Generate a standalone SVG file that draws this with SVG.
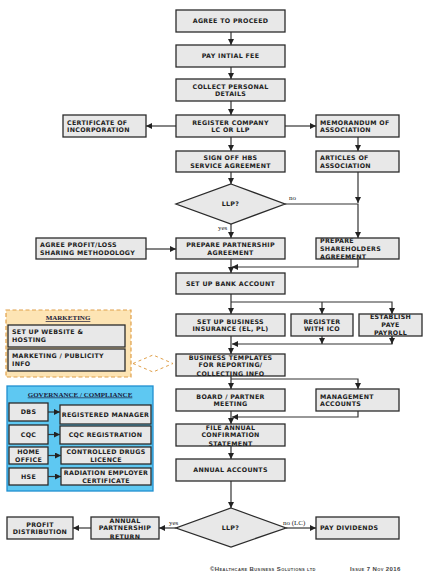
<svg xmlns="http://www.w3.org/2000/svg" width="429" height="575" viewBox="0 0 429 575">
<defs>
<style>
.bx{fill:#e8e8e8;stroke:#2b2b2b;stroke-width:1.3}
.t{font-family:"DejaVu Sans",sans-serif;font-weight:bold;font-size:6.3px;letter-spacing:0.3px;fill:#222;text-anchor:middle}
.l{text-anchor:start}
.c{fill:none;stroke:#333;stroke-width:1.2}
.lab{font-family:"Liberation Serif",serif;font-size:7px;fill:#222}
.hd{font-family:"Liberation Serif",serif;font-weight:bold;font-size:7px;fill:#1a1a3a;text-anchor:middle;text-decoration:underline}
.ft{font-family:"Liberation Sans",sans-serif;font-weight:bold;font-size:6px;font-variant:small-caps;fill:#444;letter-spacing:0.4px}
</style>
<marker id="a" markerUnits="userSpaceOnUse" markerWidth="7" markerHeight="7" refX="6" refY="3" orient="auto">
<path d="M0,0 L6,3 L0,6 Z" fill="#222"/>
</marker>
</defs>
<rect width="429" height="575" fill="#fff"/>

<g id="marketing">
<rect x="6" y="310" width="125" height="67" fill="#fde4b4" stroke="#e0a04a" stroke-width="1.2" stroke-dasharray="4,2.5"/>
<text class="hd" x="68" y="320">MARKETING</text>
<rect class="bx" x="8" y="325" width="117" height="22"/>
<text class="t l" x="12" y="334">SET UP WEBSITE &amp;</text>
<text class="t l" x="12" y="341.5">HOSTING</text>
<rect class="bx" x="8" y="349" width="117" height="22"/>
<text class="t l" x="12" y="358">MARKETING / PUBLICITY</text>
<text class="t l" x="12" y="365.5">INFO</text>
</g>
<g id="marketing-link">
<polygon points="133,363.5 153,355 173,363.5 153,372" fill="none" stroke="#e0a04a" stroke-width="1" stroke-dasharray="3,3"/>
</g>

<g id="governance">
<rect x="7" y="386" width="146" height="105" fill="#5ec8f2" stroke="#1f8fd0" stroke-width="1.3"/>
<text class="hd" x="80" y="396.5">GOVERNANCE / COMPLIANCE</text>
<rect class="bx" x="9" y="403" width="39" height="18"/>
<text class="t" x="28.5" y="414">DBS</text>
<rect class="bx" x="60" y="405" width="91" height="19"/>
<text class="t" x="105.5" y="416.5">REGISTERED MANAGER</text>
<rect class="bx" x="9" y="425" width="39" height="19"/>
<text class="t" x="28.5" y="436.5">CQC</text>
<rect class="bx" x="60" y="426" width="91" height="18"/>
<text class="t" x="105.5" y="437">CQC REGISTRATION</text>
<rect class="bx" x="9" y="447" width="39" height="17"/>
<text class="t" x="28.5" y="454">HOME</text>
<text class="t" x="28.5" y="461.5">OFFICE</text>
<rect class="bx" x="61" y="447" width="90" height="17"/>
<text class="t" x="106" y="454">CONTROLLED DRUGS</text>
<text class="t" x="106" y="461.5">LICENCE</text>
<rect class="bx" x="9" y="468" width="39" height="17"/>
<text class="t" x="28.5" y="478.5">HSE</text>
<rect class="bx" x="61" y="468" width="90" height="17"/>
<text class="t" x="106" y="475">RADIATION EMPLOYER</text>
<text class="t" x="106" y="482.5">CERTIFICATE</text>
<path class="c" d="M48,412 H60" marker-end="url(#a)"/>
<path class="c" d="M48,434.5 H60" marker-end="url(#a)"/>
<path class="c" d="M48,455.5 H61" marker-end="url(#a)"/>
<path class="c" d="M48,476.5 H61" marker-end="url(#a)"/>
</g>

<g id="connectors">
<path class="c" d="M231,32 V45" marker-end="url(#a)"/>
<path class="c" d="M231,67 V79" marker-end="url(#a)"/>
<path class="c" d="M231,101 V115" marker-end="url(#a)"/>
<path class="c" d="M176,126 H146" marker-end="url(#a)"/>
<path class="c" d="M285,126 H316" marker-end="url(#a)"/>
<path class="c" d="M231,137 V151" marker-end="url(#a)"/>
<path class="c" d="M358,137 V151" marker-end="url(#a)"/>
<path class="c" d="M231,172 V184" marker-end="url(#a)"/>
<path class="c" d="M358,172 V203" marker-end="url(#a)"/>
<path class="c" d="M285,204 H358 V238" marker-end="url(#a)"/>
<path class="c" d="M231,224 V238" marker-end="url(#a)"/>
<path class="c" d="M146,249 H176" marker-end="url(#a)"/>
<path class="c" d="M358,259 V267 H232" marker-end="url(#a)"/>
<path class="c" d="M231,259 V273" marker-end="url(#a)"/>
<path class="c" d="M231,294 V314" marker-end="url(#a)"/>
<path class="c" d="M231,302 H392 V314" marker-end="url(#a)"/>
<path class="c" d="M322,302 V314" marker-end="url(#a)"/>
<path class="c" d="M322,336 V344" marker-end="url(#a)"/>
<path class="c" d="M392,336 V344 H232" marker-end="url(#a)"/>
<path class="c" d="M392,336 V344" marker-end="url(#a)"/>
<path class="c" d="M231,336 V354" marker-end="url(#a)"/>
<path class="c" d="M231,376 V389" marker-end="url(#a)"/>
<path class="c" d="M231,379 H358 V389" marker-end="url(#a)"/>
<path class="c" d="M358,411 V417 H232" marker-end="url(#a)"/>
<path class="c" d="M231,411 V424" marker-end="url(#a)"/>
<path class="c" d="M231,446 V459" marker-end="url(#a)"/>
<path class="c" d="M231,481 V508" marker-end="url(#a)"/>
<path class="c" d="M176,528 H159" marker-end="url(#a)"/>
<path class="c" d="M91,528 H73" marker-end="url(#a)"/>
<path class="c" d="M286,528 H316" marker-end="url(#a)"/>
<text class="lab" x="289" y="200">no</text>
<text class="lab" x="218" y="230">yes</text>
<text class="lab" x="169" y="525">yes</text>
<text class="lab" x="283" y="525">no (LC)</text>
</g>

<g id="agree"><rect class="bx" x="176" y="10" width="109" height="22"/><text class="t" x="230.5" y="23.3">AGREE TO PROCEED</text></g>
<g id="pay"><rect class="bx" x="176" y="45" width="109" height="22"/><text class="t" x="230.5" y="58.3">PAY INTIAL FEE</text></g>
<g id="collect"><rect class="bx" x="176" y="79" width="109" height="22"/><text class="t" x="230.5" y="88.6">COLLECT PERSONAL</text><text class="t" x="230.5" y="96">DETAILS</text></g>
<g id="register"><rect class="bx" x="176" y="115" width="109" height="22"/><text class="t" x="230.5" y="124.6">REGISTER COMPANY</text><text class="t" x="230.5" y="132">LC OR LLP</text></g>
<g id="certificate"><rect class="bx" x="63" y="115" width="83" height="22"/><text class="t l" x="67" y="124.6">CERTIFICATE OF</text><text class="t l" x="67" y="132">INCORPORATION</text></g>
<g id="memorandum"><rect class="bx" x="316" y="115" width="83" height="22"/><text class="t l" x="320" y="124.6">MEMORANDUM OF</text><text class="t l" x="320" y="132">ASSOCIATION</text></g>
<g id="signoff"><rect class="bx" x="176" y="151" width="109" height="21"/><text class="t" x="230.5" y="160">SIGN OFF HBS</text><text class="t" x="230.5" y="167.5">SERVICE AGREEMENT</text></g>
<g id="articles"><rect class="bx" x="316" y="151" width="83" height="21"/><text class="t l" x="320" y="160">ARTICLES OF</text><text class="t l" x="320" y="167.5">ASSOCIATION</text></g>
<g id="llp1"><polygon class="bx" points="231,184 285,204 231,224 176,204"/><text class="t" x="230.5" y="206.3">LLP?</text></g>
<g id="partnership"><rect class="bx" x="176" y="238" width="109" height="21"/><text class="t" x="230.5" y="247">PREPARE PARTNERSHIP</text><text class="t" x="230.5" y="255">AGREEMENT</text></g>
<g id="profitloss"><rect class="bx" x="36" y="238" width="110" height="21"/><text class="t l" x="40" y="247">AGREE PROFIT/LOSS</text><text class="t l" x="40" y="255">SHARING METHODOLOGY</text></g>
<g id="shareholders"><rect class="bx" x="316" y="238" width="83" height="21"/><text class="t l" x="320" y="243.3">PREPARE</text><text class="t l" x="320" y="251">SHAREHOLDERS</text><text class="t l" x="320" y="259">AGREEMENT</text></g>
<g id="bank"><rect class="bx" x="176" y="273" width="109" height="21"/><text class="t" x="230.5" y="285.8">SET UP BANK ACCOUNT</text></g>
<g id="insurance"><rect class="bx" x="176" y="314" width="109" height="22"/><text class="t" x="230.5" y="323.6">SET UP BUSINESS</text><text class="t" x="230.5" y="331">INSURANCE (EL, PL)</text></g>
<g id="ico"><rect class="bx" x="291" y="314" width="62" height="22"/><text class="t" x="322" y="323.6">REGISTER</text><text class="t" x="322" y="331">WITH ICO</text></g>
<g id="paye"><rect class="bx" x="359" y="314" width="63" height="22"/><text class="t" x="390.5" y="319">ESTABLISH</text><text class="t" x="390.5" y="327">PAYE</text><text class="t" x="390.5" y="335">PAYROLL</text></g>
<g id="templates"><rect class="bx" x="176" y="354" width="109" height="22"/><text class="t" x="230.5" y="359.5">BUSINESS TEMPLATES</text><text class="t" x="230.5" y="367.3">FOR REPORTING/</text><text class="t" x="230.5" y="375.5">COLLECTING INFO</text></g>
<g id="board"><rect class="bx" x="176" y="389" width="109" height="22"/><text class="t" x="230.5" y="398.6">BOARD / PARTNER</text><text class="t" x="230.5" y="406">MEETING</text></g>
<g id="management"><rect class="bx" x="316" y="389" width="83" height="22"/><text class="t l" x="320" y="398.6">MANAGEMENT</text><text class="t l" x="320" y="406">ACCOUNTS</text></g>
<g id="fileannual"><rect class="bx" x="176" y="424" width="109" height="22"/><text class="t" x="230.5" y="429.5">FILE ANNUAL</text><text class="t" x="230.5" y="437.3">CONFIRMATION</text><text class="t" x="230.5" y="445.5">STATEMENT</text></g>
<g id="annualaccounts"><rect class="bx" x="176" y="459" width="109" height="22"/><text class="t" x="230.5" y="472.3">ANNUAL ACCOUNTS</text></g>
<g id="llp2"><polygon class="bx" points="231,508 286,528 231,547 176,528"/><text class="t" x="230.5" y="530.3">LLP?</text></g>
<g id="dividends"><rect class="bx" x="316" y="517" width="83" height="22"/><text class="t l" x="320" y="530.3">PAY DIVIDENDS</text></g>
<g id="apr"><rect class="bx" x="91" y="517" width="68" height="22"/><text class="t" x="125" y="522.5">ANNUAL</text><text class="t" x="125" y="530.3">PARTNERSHIP</text><text class="t" x="125" y="538.5">RETURN</text></g>
<g id="profitdist"><rect class="bx" x="7" y="517" width="66" height="22"/><text class="t" x="40" y="526.6">PROFIT</text><text class="t" x="40" y="534">DISTRIBUTION</text></g>

<g id="footer">
<text class="ft" x="210" y="571">©Healthcare Business Solutions ltd</text>
<text class="ft" x="350" y="571">Issue 7 Nov 2016</text>
</g>
</svg>
